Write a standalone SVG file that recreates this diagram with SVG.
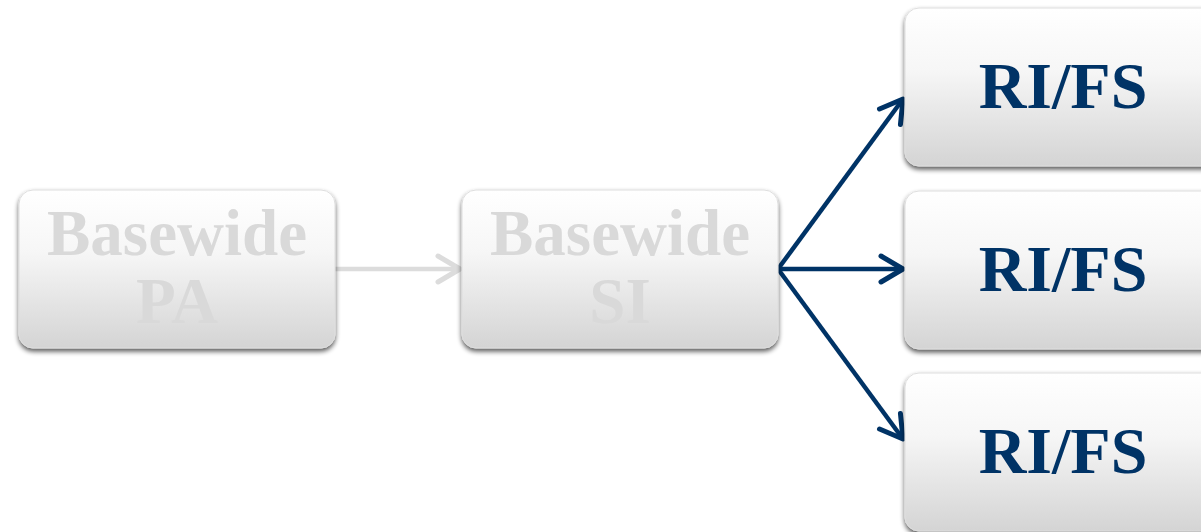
<svg xmlns="http://www.w3.org/2000/svg" width="1201" height="532" viewBox="0 0 1201 532">
<defs>
<linearGradient id="g" x1="0" y1="0" x2="0" y2="1">
<stop offset="0" stop-color="#ffffff"/>
<stop offset="0.4" stop-color="#f6f6f6"/>
<stop offset="1" stop-color="#d4d4d4"/>
</linearGradient>
<filter id="sh" x="-10%" y="-10%" width="120%" height="130%">
<feGaussianBlur in="SourceAlpha" stdDeviation="2.5"/>
<feOffset dy="3" result="b"/>
<feComponentTransfer><feFuncA type="linear" slope="0.65"/></feComponentTransfer>
<feMerge><feMergeNode/><feMergeNode in="SourceGraphic"/></feMerge>
</filter>
<marker id="an" viewBox="0 0 30 30" refX="25" refY="15" markerWidth="30" markerHeight="30" markerUnits="userSpaceOnUse" orient="auto" overflow="visible">
<path d="M3,2 L25,15 L3,28" fill="none" stroke="#003366" stroke-width="5" stroke-linecap="round" stroke-linejoin="round"/>
</marker>
<marker id="ag" viewBox="0 0 30 30" refX="25" refY="15" markerWidth="30" markerHeight="30" markerUnits="userSpaceOnUse" orient="auto" overflow="visible">
<path d="M3,2 L25,15 L3,28" fill="none" stroke="#dcdcdc" stroke-width="5" stroke-linecap="round" stroke-linejoin="round"/>
</marker>
</defs>
<style>
.box{fill:url(#g);stroke:#dedede;stroke-width:1;filter:url(#sh)}
.tg{font-family:"Liberation Serif","Times New Roman",serif;font-weight:bold;font-size:65px;fill:#d9d9d9;text-anchor:middle}
.tn{font-family:"Liberation Serif","Times New Roman",serif;font-weight:bold;font-size:66px;fill:#003366;text-anchor:middle}
.cn{fill:none;stroke:#003366;stroke-width:4.5;marker-end:url(#an)}
.cg{fill:none;stroke:#dcdcdc;stroke-width:4.5;marker-end:url(#ag)}
</style>
<g id="connectors">
<line class="cg" x1="335" y1="269" x2="460" y2="269"/>
<line class="cn" x1="778" y1="269" x2="903" y2="99"/>
<line class="cn" x1="778" y1="269" x2="903" y2="269"/>
<line class="cn" x1="778" y1="269" x2="903" y2="439"/>
</g>
<g id="basewide-pa">
<rect class="box" x="19" y="190" width="316" height="158" rx="14"/>
<text class="tg" x="177" y="255">Basewide</text>
<text class="tg" x="177" y="323">PA</text>
</g>
<g id="basewide-si">
<rect class="box" x="462" y="190" width="316" height="158" rx="14"/>
<text class="tg" x="620" y="255">Basewide</text>
<text class="tg" x="620" y="323">SI</text>
</g>
<g id="rifs-1">
<rect class="box" x="905" y="8" width="316" height="158" rx="14"/>
<text class="tn" x="1063" y="108">RI/FS</text>
</g>
<g id="rifs-2">
<rect class="box" x="905" y="191" width="316" height="158" rx="14"/>
<text class="tn" x="1063" y="291">RI/FS</text>
</g>
<g id="rifs-3">
<rect class="box" x="905" y="373" width="316" height="158" rx="14"/>
<text class="tn" x="1063" y="473">RI/FS</text>
</g>
</svg>
